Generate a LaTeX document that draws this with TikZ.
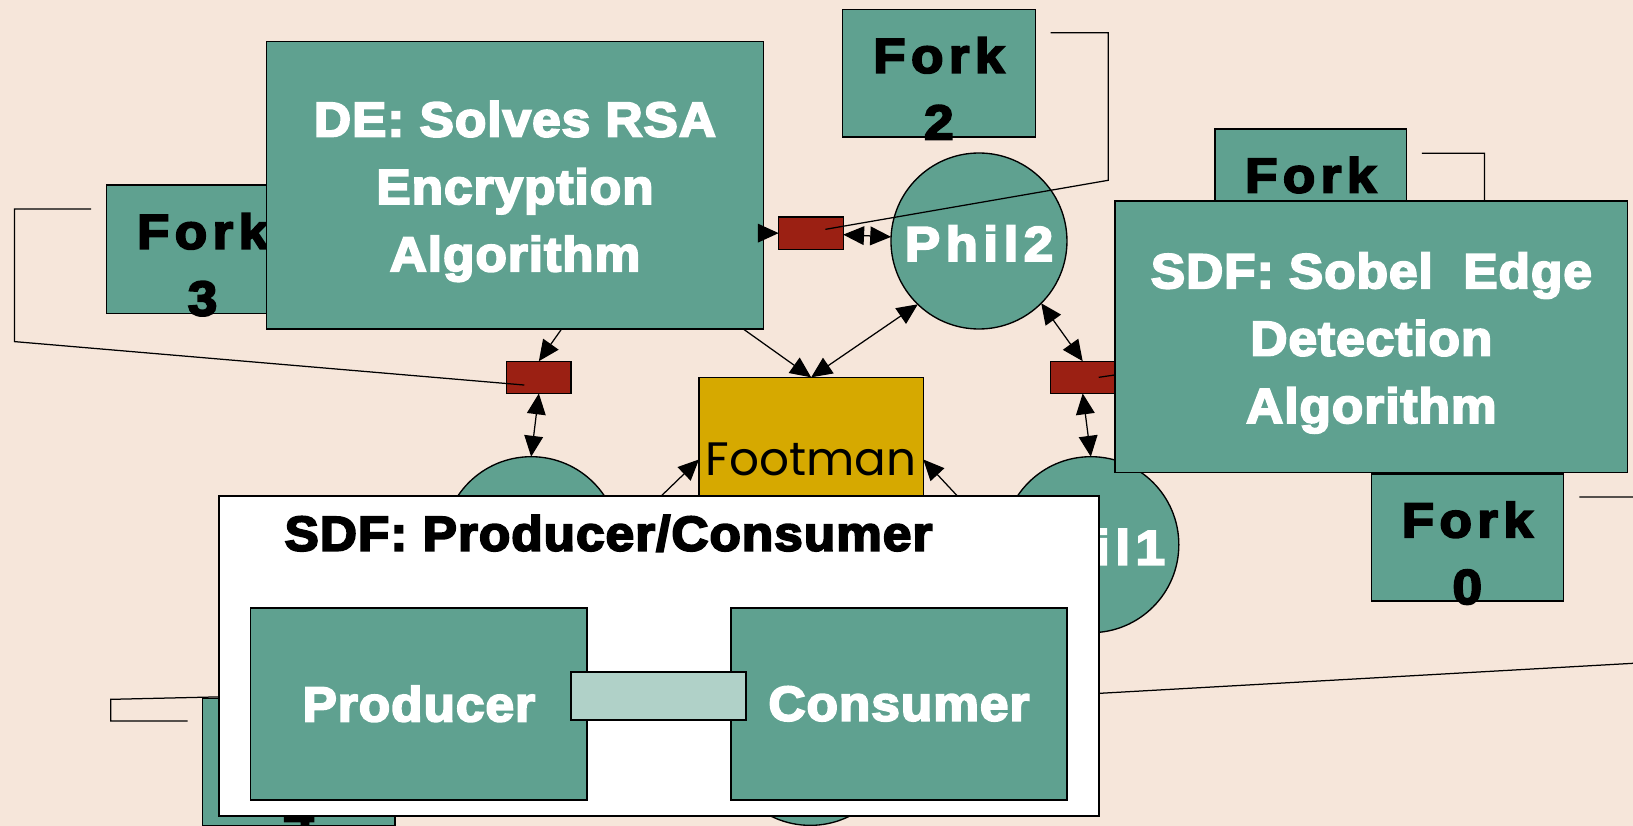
\documentclass[tikz,border=0pt]{standalone}
\usepackage{fontspec}
\usetikzlibrary{arrows.meta}
\newfontfamily\headfont[FakeStretch=1.05,LetterSpace=2,FakeBold=4]{Liberation Sans}
\newfontfamily\spacedfont[FakeStretch=1.085,LetterSpace=11,FakeBold=4]{Liberation Sans}
\newfontfamily\footfont{Poppins}
\definecolor{paper}{RGB}{246,230,218}
\definecolor{actorgreen}{RGB}{95,161,144}
\definecolor{portred}{RGB}{155,32,19}
\definecolor{footgold}{RGB}{214,169,0}
\definecolor{bufgreen}{RGB}{176,209,200}
\tikzset{
  box/.style={rectangle, draw=black, line width=1.3pt, fill=actorgreen, inner sep=0pt, outer sep=0pt},
  phil/.style={circle, draw=black, line width=1.3pt, fill=actorgreen, minimum size=169pt, inner sep=0pt, outer sep=0pt},
  port/.style={rectangle, draw=black, line width=1.3pt, fill=portred, minimum width=62pt, minimum height=31pt, inner sep=0pt, outer sep=0pt},
  forklbl/.style={anchor=north, inner sep=0pt, align=center, text=black,
    font={\spacedfont\bfseries\fontsize{47}{64}\selectfont}},
  phillbl/.style={anchor=base, inner sep=0pt, text=white,
    font={\spacedfont\bfseries\fontsize{47}{64}\selectfont}},
  modlbl/.style={anchor=north, inner sep=0pt, align=center, text=white,
    font={\headfont\bfseries\fontsize{47}{64.7}\selectfont}},
  wire/.style={draw=black, line width=1.2pt},
  arr/.style={wire, -{Triangle[length=20pt,width=18pt]}},
  dbl/.style={wire, {Triangle[length=20pt,width=18pt]}-{Triangle[length=20pt,width=18pt]}},
}
\begin{document}
\begin{tikzpicture}[x=1pt,y=-1pt]
\useasboundingbox (0,0) rectangle (1568,793);
\clip (0,0) rectangle (1568,793);
\fill[paper] (0,0) rectangle (1568,793);

% forks
\node[box, minimum width=185pt, minimum height=122.5pt] (f2) at (901.5,70.25) {};
\node[forklbl] (f2t) at ([yshift=-26.6pt]f2.north) {Fork\\2};
\node[box, minimum width=184pt, minimum height=122.5pt] (f1) at (1258.5,185.2) {};
\node[forklbl] (f1t) at ([yshift=-26.6pt]f1.north) {Fork\\1};
\node[box, minimum width=185pt, minimum height=123.2pt] (f3) at (194.5,239.2) {};
\node[forklbl] (f3t) at ([yshift=-27pt]f3.north) {Fork\\3};
\node[box, minimum width=184.2pt, minimum height=122pt] (f0) at (1408.9,516) {};
\node[forklbl] (f0t) at ([yshift=-26.6pt]f0.north) {Fork\\0};
\node[box, minimum width=184.7pt, minimum height=122pt] (f4) at (287,731.5) {};
\node[forklbl] (f4t) at ([yshift=-26.6pt]f4.north) {Fork\\4};

% philosophers
\node[phil] (p2) at (940,231.4) {};
\node[phillbl] (p2t) at ([yshift=-19.2pt]p2.center) {Phil2};
\node[phil] (p1) at (1047.4,523) {};
\node[phillbl] (p1t) at ([yshift=-19.2pt]p1.center) {Phil1};
\node[phil] (p0) at (510,523) {};
\node[phil] (p3) at (778,708) {};

% ports
\node[port] (r2) at (778.65,223.85) {};
\node[port] (r3) at (517.4,362.3) {};
\node[port] (r1) at (1039.6,362.3) {};

% footman
\node[box, fill=footgold, minimum width=215.3pt, minimum height=157.7pt] (foot) at (778.85,441.15) {};
\node[anchor=base, inner sep=0pt, font={\footfont\fontsize{45}{54}\selectfont}] (foott) at (778.5,456.7) {Footman};

% fork wires
\coordinate (f2s) at (1008.8,31.4);
\coordinate (f2k) at (1064.2,173.1);
\coordinate (r2in) at (792.5,220.2);
\draw[wire] (f2s) -| (f2k) -- (r2in);
\coordinate (f3s) at (87.4,200.7);
\coordinate (f3k) at (13.9,328);
\coordinate (r3in) at (503.4,369.7);
\draw[wire] (f3s) -| (f3k) -- (r3in);
\coordinate (f1s) at (1365.3,147.2);
\coordinate (f1k) at (1425.4,308);
\coordinate (r1in) at (1055,362.3);
\draw[wire] (f1s) -| (f1k) -- (r1in);
\coordinate (f0s) at (1516.4,477.2);
\coordinate (f0k) at (1600,635.1);
\coordinate (f0e) at (930,672.8);
\draw[wire] (f0s) -| (f0k) -- (f0e);
\coordinate (f4s) at (180.2,692.3);
\coordinate (f4k) at (106.3,671.5);
\coordinate (f4e) at (330,666.4);
\draw[wire] (f4s) -| (f4k) -- (f4e);

% philosopher / footman / port arrows
\draw[dbl] (r2) -- (p2);
\draw[dbl] (p2.226) -- (foot.north);
\draw[dbl] (r3.south) -- (p0.north);
\draw[dbl] (p2.-45) -- (r1.north);
\draw[dbl] (r1.south) -- (p1.north);
\draw[arr] (p0.5) -- (foot.west);
\draw[arr] (p1.west) -- (foot.east);

% DE model
\node[box, minimum width=477.1pt, minimum height=275.9pt] (rsa) at (494.45,177.95) {};
\node[modlbl] (rsat) at (494.5,96.8) {DE: Solves RSA\\Encryption\\Algorithm};
\draw[arr] (rsa.east |- r2.west) -- (r2.west);
\draw[arr] ([xshift=-19.3pt]rsa.south east) -- (foot.north);
\draw[arr] ([xshift=44.8pt]rsa.south) -- (r3.north);

% SDF edge detection model
\node[box, minimum width=492.4pt, minimum height=260.8pt] (sobel) at (1316.8,323.4) {};
\node[modlbl] (sobelt) at (1316.8,242.4) {SDF: Sobel\ \ Edge\\Detection\\Algorithm};

% SDF producer/consumer model
\node[rectangle, draw=black, line width=1.8pt, fill=white, minimum width=845.3pt, minimum height=307.3pt, inner sep=0pt] (pc) at (632.85,629.55) {};
\node[anchor=base, inner sep=0pt, font={\headfont\bfseries\fontsize{47}{56}\selectfont}] (pct) at (584.3,528.7) {SDF: Producer/Consumer};
\node[box, line width=1.8pt, minimum width=323.3pt, minimum height=184.7pt, text=white, font={\headfont\bfseries\fontsize{47}{56}\selectfont}] (prod) at (402.15,675.75) {Producer};
\node[box, line width=1.8pt, minimum width=322.6pt, minimum height=184.7pt, text=white, font={\headfont\bfseries\fontsize{47}{56}\selectfont}] (cons) at (863.2,675.75) {Consumer};
\node[box, line width=1.8pt, fill=bufgreen, minimum width=168.4pt, minimum height=46.4pt] (buf) at (632.5,668.1) {};
\end{tikzpicture}
\end{document}
